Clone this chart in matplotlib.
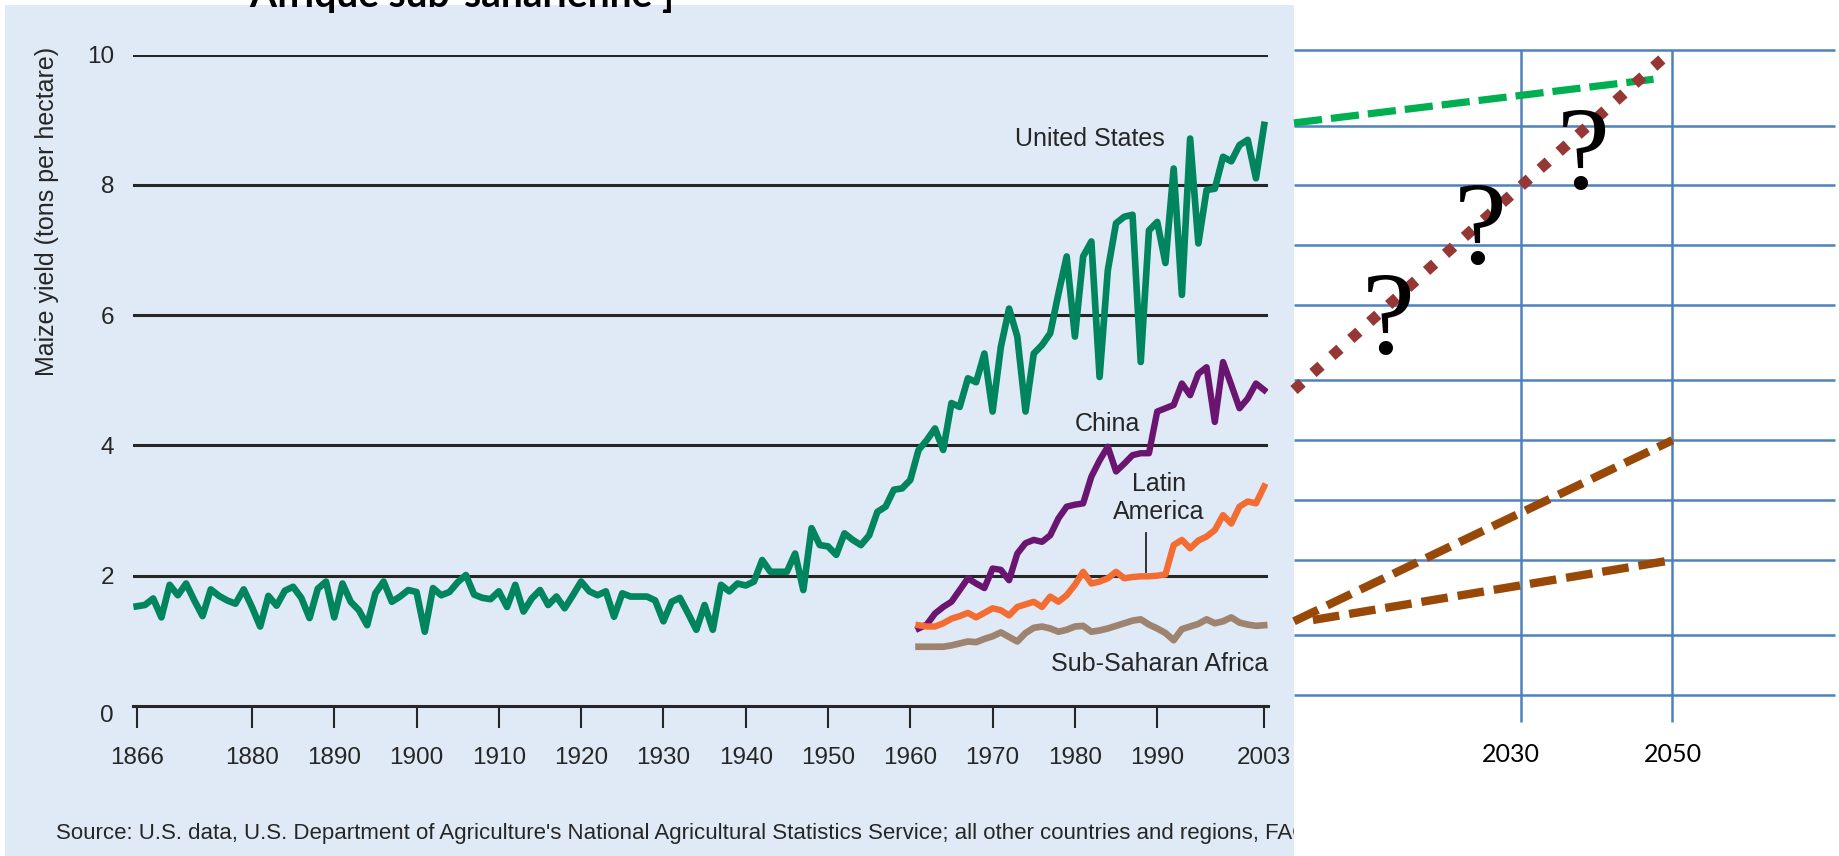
import matplotlib
matplotlib.use("Agg")
import matplotlib.pyplot as plt
import matplotlib.transforms as mtransforms

# Maisertrag (Tonnen pro Hektar)
us_years = list(range(1866, 2004))
us_yield = [
    1.53, 1.55, 1.65, 1.36, 1.86, 1.70, 1.88, 1.62, 1.38, 1.79,
    1.69, 1.62, 1.57, 1.79, 1.52, 1.22, 1.69, 1.54, 1.77, 1.83,
    1.66, 1.35, 1.80, 1.91, 1.36, 1.88, 1.60, 1.47, 1.24, 1.73,
    1.91, 1.60, 1.68, 1.78, 1.75, 1.14, 1.81, 1.70, 1.75, 1.90,
    2.01, 1.71, 1.66, 1.64, 1.76, 1.52, 1.86, 1.45, 1.65, 1.78,
    1.55, 1.68, 1.50, 1.70, 1.91, 1.76, 1.70, 1.76, 1.37, 1.73,
    1.68, 1.68, 1.68, 1.62, 1.30, 1.60, 1.66, 1.42, 1.17, 1.55,
    1.17, 1.86, 1.76, 1.88, 1.85,
    1.91, 2.24, 2.06, 2.06, 2.06, 2.34, 1.78, 2.73, 2.47, 2.45,
    2.32, 2.65, 2.55, 2.47, 2.62, 2.98, 3.06, 3.32, 3.34, 3.47,
    3.93, 4.08, 4.26, 3.93, 4.65, 4.59, 5.03, 4.97, 5.41, 4.52,
    5.51, 6.10, 5.67, 4.52, 5.41, 5.54, 5.72, 6.33, 6.90, 5.67,
    6.90, 7.13, 5.05, 6.69, 7.41, 7.51, 7.54, 5.28, 7.30, 7.43,
    6.80, 8.25, 6.31, 8.71, 7.10, 7.92, 7.94, 8.43, 8.36, 8.61,
    8.69, 8.10, 8.92,
]
region_years = list(range(1961, 2004))
china_yield = [
    1.19, 1.25, 1.42, 1.52, 1.60, 1.78, 1.96, 1.88, 1.81, 2.11,
    2.09, 1.93, 2.34, 2.50, 2.55, 2.52, 2.62, 2.88, 3.06, 3.09,
    3.11, 3.52, 3.77, 3.98, 3.60, 3.72, 3.85, 3.88, 3.88, 4.52,
    4.57, 4.62, 4.95, 4.77, 5.10, 5.20, 4.36, 5.28, 4.93, 4.57,
    4.72, 4.95, 4.85,
]
latam_yield = [
    1.24, 1.22, 1.22, 1.27, 1.34, 1.38, 1.43, 1.36, 1.43, 1.50,
    1.47, 1.39, 1.52, 1.56, 1.60, 1.52, 1.68, 1.60, 1.70, 1.86,
    2.06, 1.88, 1.91, 1.96, 2.06, 1.96, 1.98, 1.99, 1.99, 2.00,
    2.02, 2.47, 2.55, 2.42, 2.54, 2.60, 2.70, 2.93, 2.80, 3.06,
    3.14, 3.11, 3.37,
]
ssa_yield = [
    0.91, 0.91, 0.91, 0.91, 0.93, 0.96, 0.99, 0.98, 1.03, 1.07,
    1.13, 1.06, 0.99, 1.12, 1.20, 1.22, 1.19, 1.14, 1.17, 1.22,
    1.23, 1.14, 1.16, 1.19, 1.23, 1.27, 1.31, 1.33, 1.25, 1.19,
    1.12, 1.01, 1.18, 1.22, 1.26, 1.33, 1.27, 1.30, 1.36, 1.28,
    1.25, 1.23, 1.24,
]
x_ticks = [1866, 1880, 1890, 1900, 1910, 1920, 1930, 1940, 1950, 1960, 1970, 1980, 1990, 2003]
y_ticks = [0, 2, 4, 6, 8, 10]

# Projektionsskizze rechts (gleiche Ertragsskala)
proj_grid_levels = [10.07, 8.91, 7.99, 7.07, 6.15, 5.00, 4.08, 3.16, 2.24, 1.09, 0.17]
proj_year_ticks = [2030, 2050]
proj_us_years, proj_us = [2000, 2047.5], [8.95, 9.62]
proj_china_years, proj_china = [2000, 2050], [4.85, 10.07]
proj_ssa_hi_years, proj_ssa_hi = [2000, 2050], [1.30, 4.08]
proj_ssa_lo_years, proj_ssa_lo = [2002.5, 2050], [1.32, 2.24]
question_years = [2012.5, 2024.6, 2038.2]
question_levels = [5.42, 6.80, 7.95]

plt.rcParams['font.family'] = ['Liberation Sans', 'DejaVu Sans']

W, H = 1839, 856
fig = plt.figure(figsize=(W / 100, H / 100), dpi=100)


# Pixelbox (Ursprung oben links) -> Figurkoordinaten
def px_box(x0, y0, x1, y1):
    return [x0 / W, 1 - y1 / H, (x1 - x0) / W, (y1 - y0) / H]


# Tick-Beschriftung um dx/dy Pixel verschieben
def nudge(label, dx, dy):
    label.set_transform(label.get_transform()
                        + mtransforms.ScaledTranslation(dx / 100, dy / 100, fig.dpi_scale_trans))


ink = '#262626'

# hellblauer Hintergrund des linken Diagramms
bg = fig.add_axes(px_box(5, 5, 1294, 856))
bg.set_facecolor('#E0EAF6')
bg.set_xticks([])
bg.set_yticks([])
for s in bg.spines.values():
    s.set_visible(False)
bg.text(0.0396, 0.027,
        "Source: U.S. data, U.S. Department of Agriculture's National Agricultural "
        "Statistics Service; all other countries and regions, FAO",
        transform=bg.transAxes, va='center', ha='left', fontsize=16, color=ink,
        clip_on=True)

# linkes Diagramm
ax = fig.add_axes(px_box(132.6, 54.5, 1268.3, 706))
ax.set_facecolor('none')
ax.set_xlim(1865.5, 2003.5)
ax.set_ylim(0, 10)
for v in y_ticks[1:]:
    ax.axhline(v, color=ink, lw=2.2, zorder=1)
for side in ['top', 'right', 'left']:
    ax.spines[side].set_visible(False)
ax.spines['bottom'].set_color(ink)
ax.spines['bottom'].set_linewidth(2.2)
ax.set_xticks(x_ticks)
ax.set_yticks(y_ticks)
ax.tick_params(axis='x', direction='out', length=15.8, width=1.5, color=ink,
               pad=14, labelsize=17.5, labelcolor=ink)
ax.tick_params(axis='y', length=0, pad=13.4, labelsize=17.5, labelcolor=ink)
nudge(ax.yaxis.get_major_ticks()[0].label1, 0, -7)
ax.set_ylabel('Maize yield (tons per hectare)', fontsize=18, color=ink, va='center')
ax.yaxis.set_label_coords(-0.0754, 0.759)

ax.plot(region_years, ssa_yield, color='#9E8470', lw=4.8, solid_joinstyle='round', zorder=3)
ax.plot(us_years, us_yield, color='#00855F', lw=4.8, solid_joinstyle='round', zorder=3)
ax.plot(region_years, china_yield, color='#6A1670', lw=4.6, solid_joinstyle='round', zorder=3)
ax.plot(region_years, latam_yield, color='#F36C32', lw=4.6, solid_joinstyle='round', zorder=3)

ax.text(1981.8, 8.60, 'United States', ha='center', va='baseline', fontsize=18, color=ink)
ax.text(1983.9, 4.22, 'China', ha='center', va='baseline', fontsize=18, color=ink)
ax.text(1990.2, 3.19, 'Latin\nAmerica', ha='center', va='center', fontsize=18, color=ink)
ax.plot([1988.6, 1988.6], [2.06, 2.66], color=ink, lw=1.3)
ax.text(1990.3, 0.54, 'Sub-Saharan Africa', ha='center', va='baseline', fontsize=18, color=ink)

# rechte Skizze
ax2 = fig.add_axes(px_box(1294, 54.5, 1839, 706))
ax2.set_facecolor('none')
ax2.set_xlim(2000, 2072)
ax2.set_ylim(0, 10)
for s in ax2.spines.values():
    s.set_visible(False)
ax2.set_yticks([])
ax2.set_xticks(proj_year_ticks)
ax2.tick_params(axis='x', length=0, pad=27, labelsize=18)
for lab in ax2.get_xticklabels():
    lab.set_fontfamily('Lato')
nudge(ax2.xaxis.get_major_ticks()[0].label1, -10, 0)
grid_blue = '#4F81BD'
ax2.hlines(proj_grid_levels, 2000, 2071.5, color=grid_blue, lw=1.8, clip_on=False)
ax2.vlines(proj_year_ticks, -0.25, 10.07, color=grid_blue, lw=1.8, clip_on=False)

ax2.plot(proj_us_years, proj_us, color='#00B050', lw=5.2, dashes=(3.9, 1.25), clip_on=False)
ax2.plot(proj_china_years, proj_china, color='#953735', lw=7.8, dashes=(1.0, 1.35), clip_on=False)
ax2.plot(proj_ssa_hi_years, proj_ssa_hi, color='#984807', lw=6, dashes=(3.2, 1.2), clip_on=False)
ax2.plot(proj_ssa_lo_years, proj_ssa_lo, color='#984807', lw=6, dashes=(3.2, 1.2), clip_on=False)
for qx, qy in zip(question_years, question_levels):
    ax2.text(qx, qy, '?', fontsize=86, family='Liberation Serif', ha='center',
             va='baseline', color='black', zorder=5)

# abgeschnittener Folientitel am oberen Rand
fig.text(249 / W, 1 - 7 / H, 'Afrique sub-saharienne ]', fontsize=28,
         fontweight='bold', family='Lato', va='baseline', color='black', zorder=10)

fig.savefig('out.png', dpi=100)
plt.close()
